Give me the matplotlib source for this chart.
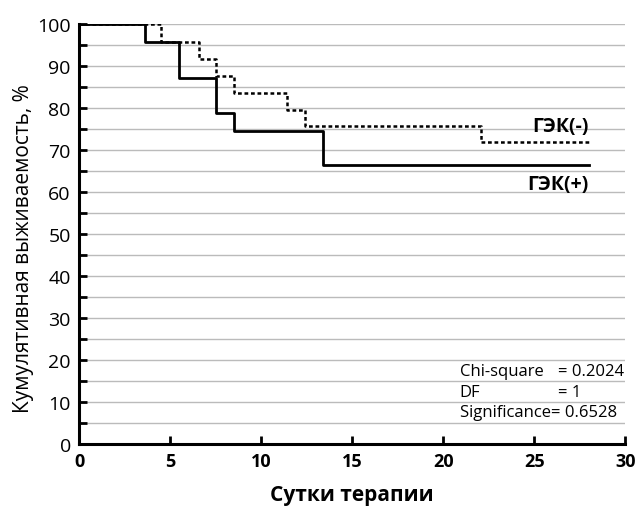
import numpy as np
import matplotlib
matplotlib.use("Agg")
from matplotlib import pyplot as plt

# survival curves (step points: time, % survival)
t_pos = [0, 3.6, 5.5, 7.5, 8.5, 13.4, 28]
s_pos = [100, 95.7, 87.2, 78.8, 74.5, 66.4, 66.4]

t_neg = [0, 4.5, 6.6, 7.5, 8.5, 11.4, 12.4, 22.1, 28]
s_neg = [100, 95.8, 91.7, 87.6, 83.5, 79.6, 75.8, 72.0, 72.0]

stat_names = ["Chi-square", "DF"]
stat_vals = ["= 0.2024", "= 1"]
signif = "Significance= 0.6528"

plt.rcParams['font.family'] = ['Open Sans', 'DejaVu Sans']

fig = plt.figure(figsize=(6.38, 5.10), dpi=100)
ax = fig.add_axes([0.124, 0.1275, 0.856, 0.8235])

ax.step(t_pos, s_pos, where='post', color='black', lw=2)
ax.step(t_neg, s_neg, where='post', color='black', lw=1.8, linestyle=(0, (1.5, 1.1)))

ax.set_xlim(0, 30)
ax.set_ylim(0, 100)
ax.set_xticks(np.arange(0, 31, 5))
ax.set_yticks(np.arange(0, 101, 10))
ax.set_yticks(np.arange(5, 100, 10), minor=True)
ax.yaxis.grid(True, which='both', color='#bbbbbb', lw=1)
ax.set_axisbelow(True)

for s in ['top', 'right']:
    ax.spines[s].set_visible(False)
for s in ['left', 'bottom']:
    ax.spines[s].set_linewidth(2.2)

ax.tick_params(axis='y', which='both', direction='in', length=6, width=2, labelsize=14, pad=6)
ax.tick_params(axis='x', direction='in', length=6, width=2, labelsize=13, pad=6)
for lb in ax.get_xticklabels():
    lb.set_fontweight('bold')

ax.set_ylabel("Кумулятивная выживаемость, %", fontsize=15)
ax.yaxis.set_label_coords(-0.082, 0.467)
ax.set_xlabel("Сутки терапии", fontsize=15, fontweight='bold', labelpad=10)

ax.text(28, 75.7, "ГЭК(-)", ha='right', va='center', fontsize=14, fontweight='bold')
ax.text(28, 61.9, "ГЭК(+)", ha='right', va='center', fontsize=14, fontweight='bold')

ys = [17.3, 12.4]
for nm, v, y in zip(stat_names, stat_vals, ys):
    ax.text(20.9, y, nm, ha='left', va='center', fontsize=12)
    ax.text(26.3, y, v, ha='left', va='center', fontsize=12)
ax.text(20.9, 7.5, signif, ha='left', va='center', fontsize=12)

fig.savefig("out.png", dpi=100)
